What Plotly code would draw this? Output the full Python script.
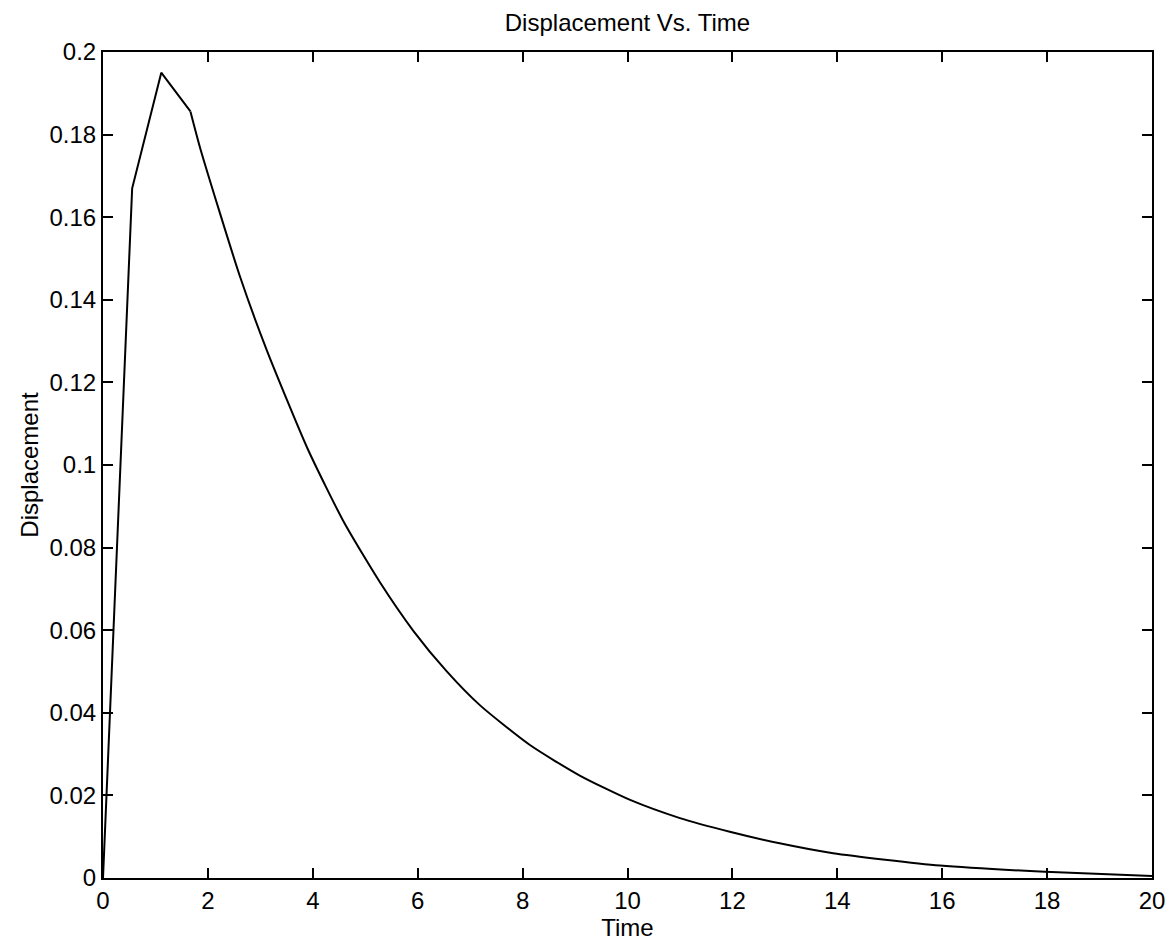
import plotly.graph_objects as go

# Data
# Rising part (straight segments in the reference)
time_rise = [0.0, 0.556, 1.111, 1.667]
disp_rise = [0.0, 0.167, 0.195, 0.1856]
# Decaying part (smooth curve in the reference)
time_decay = [1.667, 1.86, 2.61, 3.12, 3.91, 4.6, 5.28, 5.92, 6.55,
              7.19, 8.14, 9.09, 10.05, 11.0, 11.95, 12.9, 13.92, 15.96, 17.96, 20.0]
disp_decay = [0.1856, 0.1764, 0.1457, 0.1279, 0.1037, 0.0860, 0.0716, 0.0598, 0.0501,
              0.0418, 0.0322, 0.0248, 0.0189, 0.0145, 0.0112, 0.0084,
              0.0060, 0.0030, 0.0015, 0.0005]

x_ticks = [0, 2, 4, 6, 8, 10, 12, 14, 16, 18, 20]
x_tick_labels = ["0", "2", "4", "6", "8", "10", "12", "14", "16", "18", "20"]
y_ticks = [0, 0.02, 0.04, 0.06, 0.08, 0.1, 0.12, 0.14, 0.16, 0.18, 0.2]
y_tick_labels = ["0", "0.02", "0.04", "0.06", "0.08", "0.1", "0.12", "0.14", "0.16", "0.18", "0.2"]

FONT = "Liberation Sans, Arial, Helvetica, sans-serif"

fig = go.Figure()
fig.add_trace(go.Scatter(x=time_rise, y=disp_rise, mode="lines",
                         line=dict(color="black", width=2), showlegend=False))
fig.add_trace(go.Scatter(x=time_decay, y=disp_decay, mode="lines",
                         line=dict(color="black", width=2, shape="spline", smoothing=0.6),
                         showlegend=False))

axis_common = dict(
    showgrid=False, zeroline=False, showline=True, linecolor="black", linewidth=2,
    mirror="ticks", ticks="inside", ticklen=10, tickwidth=1.5, tickcolor="black",
    tickfont=dict(family=FONT, size=24, color="black"),
)

fig.update_layout(
    width=1166, height=944,
    margin=dict(l=95, r=22, t=44, b=74, autoexpand=False),
    paper_bgcolor="white", plot_bgcolor="white",
    title=dict(text="Displacement Vs. Time", x=(95 + 1144) / 2 / 1166, xanchor="center",
               y=1 - 15 / 944, yanchor="middle",
               font=dict(family=FONT, size=24, color="black")),
    xaxis=dict(range=[0, 20], tickvals=x_ticks, ticktext=x_tick_labels,
               title=dict(text="Time", font=dict(family=FONT, size=24, color="black"), standoff=4),
               **axis_common),
    yaxis=dict(range=[0, 0.2], tickvals=y_ticks, ticktext=y_tick_labels,
               title=dict(text="Displacement", font=dict(family=FONT, size=24, color="black"), standoff=4),
               **axis_common),
)

fig.write_html("out.html")
